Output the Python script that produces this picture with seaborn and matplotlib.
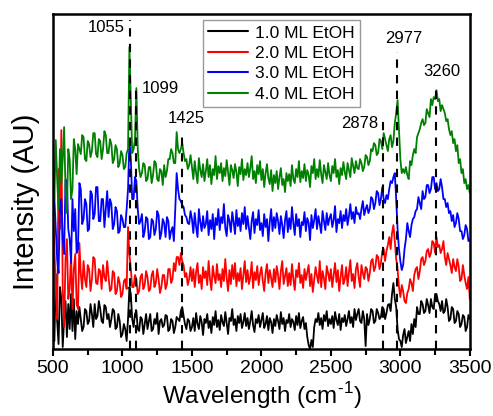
import numpy as np
import pandas as pd
import matplotlib
matplotlib.use('Agg')
import matplotlib.pyplot as plt
import seaborn as sns

# wavenumber grid, one point every 10 cm-1
wavenumber = np.arange(500, 3501, 10)

# intensities (arbitrary units, stacking offsets included)
black_1ml = [
    40, 8, 75, 28, 5, 62, 50, 2, 30, 48,
    12, 45, 20, 55, 18, 50, 10, 38, 25, 42,
    30, 18, 22, 40, 38, 25, 28, 45, 35, 22,
    45, 30, 33, 48, 40, 28, 26, 44, 42, 30,
    35, 22, 30, 40, 38, 20, 22, 35, 28, 12,
    15, 25, 20, 8, 30, 62, 55, 30, 22, 35,
    38, 20, 18, 32, 30, 15, 25, 35, 20, 28,
    35, 18, 20, 30, 25, 36, 15, 28, 30, 22,
    24, 34, 33, 18, 20, 30, 28, 16, 22, 32,
    30, 28, 38, 42, 33, 25, 20, 30, 28, 18,
    22, 31, 18, 36, 25, 20, 33, 27, 14, 30,
    26, 35, 21, 28, 16, 32, 24, 38, 22, 29,
    19, 34, 27, 23, 37, 26, 15, 31, 28, 40,
    24, 30, 18, 33, 26, 35, 21, 27, 36, 23,
    31, 20, 28, 38, 24, 17, 30, 26, 34, 22,
    29, 36, 21, 25, 33, 19, 31, 27, 16, 30,
    23, 34, 28, 20, 37, 25, 31, 18, 29, 26,
    35, 22, 30, 27, 19, 33, 24, 36, 21, 28,
    32, 20, 26, 12, 4, 0, 9, 2, 22, 30,
    27, 36, 24, 31, 20, 34, 28, 38, 23, 30,
    25, 33, 21, 37, 29, 24, 35, 19, 31, 27,
    34, 23, 30, 38, 26, 32, 22, 40, 29, 35,
    40, 28, 26, 38, 30, 3, 35, 24, 30, 40,
    38, 26, 28, 40, 36, 30, 32, 42, 40, 30,
    36, 44, 45, 38, 55, 66, 50, 42, 20, 10,
    8, 2, 14, 20, 6, 12, 18, 8, 25, 15,
    30, 22, 42, 35, 35, 48, 45, 36, 38, 50,
    44, 36, 50, 42, 40, 55, 55, 48, 45, 38,
    48, 36, 38, 50, 42, 28, 30, 42, 40, 26,
    28, 38, 35, 22, 25, 34, 32, 18, 22, 34,
    30]

red_2ml = [
    140, 100, 60, 30, 180, 120, 219, 60, 22, 90,
    110, 50, 60, 95, 40, 80, 95, 45, 40, 106,
    75, 60, 88, 70, 62, 84, 80, 58, 70, 92,
    90, 66, 65, 80, 78, 60, 84, 72, 68, 88,
    72, 58, 60, 78, 76, 55, 58, 72, 66, 52,
    55, 68, 70, 60, 122, 95, 80, 62, 62, 74,
    70, 55, 58, 72, 75, 60, 64, 78, 72, 58,
    60, 74, 78, 62, 66, 80, 70, 56, 62, 74,
    74, 60, 65, 80, 80, 66, 70, 86, 78, 92,
    92, 84, 96, 88, 84, 72, 76, 64, 70, 82,
    68, 80, 62, 77, 86, 66, 74, 60, 82, 71,
    78, 64, 88, 70, 59, 83, 73, 66, 85, 69,
    75, 62, 80, 68, 90, 71, 58, 79, 65, 84,
    70, 86, 63, 76, 68, 81, 60, 74, 88, 67,
    79, 65, 72, 87, 61, 77, 69, 83, 64, 75,
    82, 68, 58, 76, 85, 66, 79, 71, 62, 80,
    67, 83, 74, 60, 78, 88, 65, 73, 81, 63,
    76, 64, 85, 70, 59, 79, 72, 86, 66, 74,
    61, 80, 69, 77, 84, 63, 75, 57, 70, 82,
    73, 66, 88, 62, 78, 71, 60, 83, 76, 68,
    80, 62, 74, 86, 67, 79, 58, 72, 84, 65,
    70, 82, 63, 77, 89, 68, 75, 61, 80, 86,
    72, 62, 84, 76, 70, 82, 80, 68, 76, 88,
    90, 78, 82, 94, 92, 80, 86, 98, 100, 88,
    98, 104, 112, 100, 116, 124, 108, 90, 80, 62,
    52, 64, 58, 48, 46, 56, 60, 70, 66, 58,
    74, 80, 82, 70, 78, 90, 92, 84, 88, 98,
    100, 92, 96, 108, 106, 96, 112, 102, 104, 96,
    100, 108, 92, 84, 96, 90, 84, 76, 90, 82,
    78, 90, 82, 68, 70, 84, 74, 66, 60, 72,
    50]

blue_3ml = [
    199, 150, 120, 90, 76, 140, 150, 110, 95, 169,
    169, 120, 110, 86, 150, 118, 140, 96, 100, 166,
    160, 125, 130, 150, 145, 118, 120, 158, 155, 130,
    135, 162, 162, 128, 128, 150, 150, 122, 140, 158,
    132, 150, 145, 120, 125, 142, 138, 116, 118, 134,
    130, 122, 122, 140, 160, 209, 190, 150, 150, 172,
    168, 140, 125, 128, 135, 112, 118, 132, 130, 110,
    112, 130, 128, 114, 120, 138, 134, 110, 116, 130,
    126, 112, 132, 128, 110, 118, 122, 108, 140, 176,
    160, 150, 148, 144, 142, 134, 132, 126, 125, 138,
    130, 116, 136, 122, 112, 140, 127, 118, 133, 121,
    125, 138, 114, 129, 120, 135, 110, 131, 124, 140,
    119, 132, 126, 145, 121, 113, 134, 128, 117, 137,
    127, 115, 139, 123, 131, 118, 136, 125, 142, 120,
    133, 121, 110, 128, 137, 116, 130, 124, 139, 119,
    126, 113, 135, 122, 130, 108, 127, 140, 118, 132,
    121, 136, 128, 115, 133, 124, 111, 129, 138, 117,
    131, 120, 142, 126, 114, 135, 123, 130, 112, 127,
    124, 137, 118, 131, 126, 109, 134, 121, 129, 140,
    120, 133, 125, 116, 138, 128, 119, 136, 124, 131,
    135, 122, 129, 143, 117, 130, 126, 138, 121, 134,
    128, 140, 124, 133, 145, 130, 137, 126, 142, 135,
    136, 130, 140, 148, 134, 140, 144, 136, 140, 152,
    150, 140, 146, 158, 156, 144, 150, 162, 150, 146,
    154, 150, 160, 168, 166, 172, 176, 150, 120, 100,
    88, 79, 84, 100, 110, 126, 118, 112, 124, 130,
    132, 138, 140, 152, 146, 140, 158, 150, 152, 164,
    164, 156, 160, 172, 172, 160, 166, 158, 160, 170,
    162, 150, 150, 142, 146, 136, 138, 128, 134, 122,
    126, 136, 130, 118, 118, 110, 114, 124, 120, 108,
    109]

green_4ml = [
    180, 150, 209, 170, 140, 200, 165, 190, 222, 160,
    136, 200, 190, 150, 160, 210, 200, 175, 205, 200,
    195, 214, 212, 190, 188, 208, 205, 192, 198, 216,
    216, 195, 192, 210, 208, 190, 200, 218, 214, 196,
    196, 210, 205, 186, 190, 204, 200, 182, 186, 198,
    194, 180, 182, 196, 200, 302, 250, 196, 200, 210,
    261, 200, 180, 172, 176, 186, 184, 168, 170, 182,
    182, 166, 174, 188, 186, 170, 168, 180, 178, 164,
    184, 172, 178, 190, 190, 200, 196, 186, 186, 217,
    200, 196, 200, 206, 196, 188, 190, 180, 184, 194,
    182, 170, 188, 176, 166, 191, 179, 172, 185, 168,
    178, 190, 172, 184, 165, 180, 174, 193, 170, 183,
    176, 186, 168, 181, 173, 189, 177, 164, 184, 179,
    171, 185, 177, 163, 182, 175, 190, 169, 180, 174,
    186, 172, 181, 193, 170, 178, 166, 184, 175, 188,
    169, 180, 162, 176, 185, 171, 165, 179, 158, 174,
    166, 178, 160, 172, 181, 164, 170, 157, 176, 168,
    175, 163, 184, 170, 166, 180, 172, 188, 167, 178,
    171, 185, 168, 179, 174, 162, 183, 176, 190, 170,
    180, 172, 189, 175, 166, 184, 177, 170, 186, 174,
    168, 183, 176, 190, 172, 179, 165, 181, 174, 187,
    177, 170, 186, 179, 172, 191, 183, 176, 188, 181,
    180, 190, 186, 178, 182, 194, 192, 184, 188, 200,
    198, 206, 204, 194, 196, 210, 208, 200, 216, 210,
    204, 198, 210, 214, 202, 208, 226, 236, 249, 220,
    190, 176, 180, 176, 182, 174, 170, 188, 184, 194,
    200, 196, 212, 216, 220, 226, 230, 224, 226, 240,
    236, 232, 250, 244, 252, 250, 259, 248, 250, 238,
    244, 240, 236, 228, 230, 220, 214, 218, 206, 210,
    198, 204, 186, 190, 176, 180, 166, 170, 160, 164,
    156]

series_labels = ['1.0 ML EtOH', '2.0 ML EtOH', '3.0 ML EtOH', '4.0 ML EtOH']
series_colors = ['black', 'red', 'blue', 'green']

# marked peaks and the top of each dashed guide line
peak_positions = [1055, 1099, 1425, 2878, 2977, 3260]
peak_line_tops = [329, 264, 217, 232, 297, 264]

df = pd.concat([
    pd.DataFrame({'Wavenumber': wavenumber, 'Intensity': vals, 'Sample': lab})
    for vals, lab in zip([black_1ml, red_2ml, blue_3ml, green_4ml], series_labels)
])

sns.set_style('white')
plt.rcParams['font.family'] = ['Liberation Sans', 'DejaVu Sans']
plt.rcParams['text.color'] = 'black'
plt.rcParams['axes.labelcolor'] = 'black'
plt.rcParams['xtick.color'] = 'black'
plt.rcParams['mathtext.fontset'] = 'custom'
plt.rcParams['mathtext.rm'] = 'Liberation Sans'

fig = plt.figure(figsize=(4.93, 4.16), dpi=100)
ax = fig.add_axes([0.1075, 0.161, 0.8455, 0.805])

sns.lineplot(data=df, x='Wavenumber', y='Intensity', hue='Sample',
             palette=dict(zip(series_labels, series_colors)), sort=False,
             linewidth=1.3, ax=ax)

# dashed guide lines at the peak positions
for pos, top in zip(peak_positions, peak_line_tops):
    ax.plot([pos, pos], [0, top], color='black', linestyle=(0, (4, 3.5)),
            linewidth=1.5, zorder=5)

ax.text(1020, 322, '1055', ha='right', va='center', fontsize=12)
ax.text(1140, 261, '1099', ha='left', va='center', fontsize=12)
ax.text(1457, 231, '1425', ha='center', va='center', fontsize=12)
ax.text(2838, 226, '2878', ha='right', va='center', fontsize=12)
ax.text(3025, 311, '2977', ha='center', va='center', fontsize=12)
ax.text(3299, 278, '3260', ha='center', va='center', fontsize=12)

ax.set_xlim(500, 3500)
ax.set_ylim(0, 335)
ax.set_xticks(np.arange(500, 3501, 500))
ax.set_xticks(np.arange(750, 3500, 500), minor=True)
ax.set_yticks([])
ax.tick_params(axis='x', which='major', direction='out', length=5, width=1.5,
               labelsize=14, bottom=True, pad=3)
ax.tick_params(axis='x', which='minor', direction='out', length=4, width=1.5,
               bottom=True)
for sp in ax.spines.values():
    sp.set_linewidth(1.8)
    sp.set_color('black')

ax.set_xlabel('Wavelength (cm$^{\\text{-}1}$)', fontsize=17.5, labelpad=2)
ax.set_ylabel('Intensity (AU)', fontsize=21)
ax.yaxis.set_label_coords(-0.031, 0.44)

handles, labels = ax.get_legend_handles_labels()
leg = ax.legend(handles, labels, loc='upper left', bbox_to_anchor=(0.36, 0.982),
                borderaxespad=0, fontsize=12.5, frameon=True, fancybox=False,
                edgecolor='gray', handlelength=2.3, handletextpad=0.4,
                labelspacing=0.3, borderpad=0.3)
leg.get_frame().set_linewidth(1.0)
for line in leg.get_lines():
    line.set_linewidth(1.5)

fig.savefig('out.png', dpi=100)
